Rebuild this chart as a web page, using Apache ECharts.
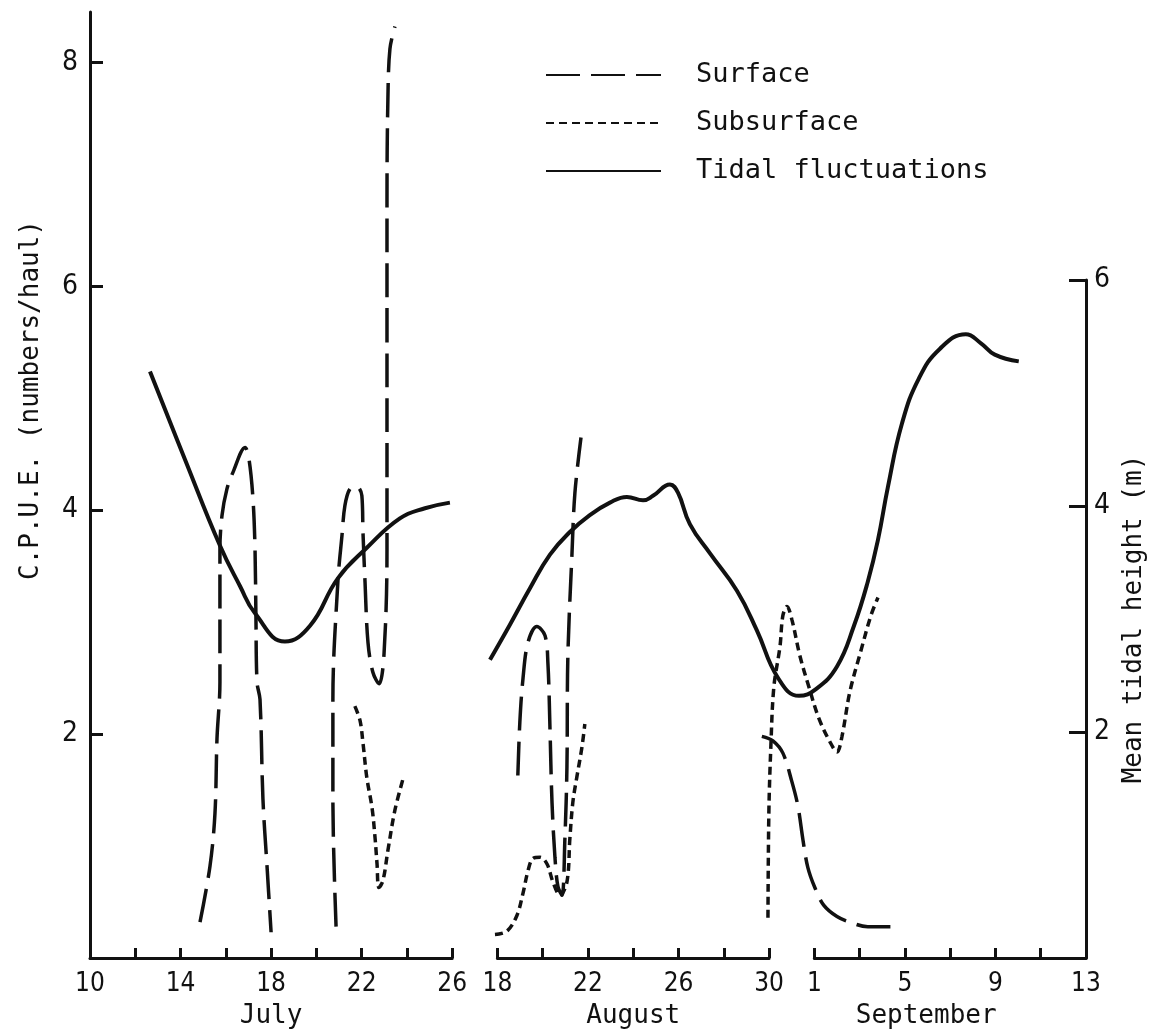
<!DOCTYPE html>
<html>
<head>
<meta charset="utf-8">
<title>C.P.U.E. and tidal height</title>
<script src="https://cdn.jsdelivr.net/npm/echarts@6/dist/echarts.min.js"></script>
<style>
  html, body { margin: 0; padding: 0; background: #fff; }
  #main { width: 1150px; height: 1033px; }
</style>
</head>
<body>
<div id="main"></div>
<script>
// x = day position on the broken date axis:
// 0 = 10 July .. 16 = 26 July, 18 = 18 Aug .. 30 = 30 Aug, 32 = 1 Sept .. 44 = 13 Sept
var surfaceJulyA = [[4.86,0.32],[5.30,0.82],[5.52,1.29],[5.61,1.96],[5.74,2.46],[5.74,3.65],[5.83,3.95],[6.05,4.19],[6.32,4.34],[6.85,4.56],[7.02,4.46],[7.2,4.1],[7.29,3.65],[7.33,3.05],[7.38,2.46],[7.51,2.31],[7.64,1.42],[7.82,0.82],[8.0,0.23]];
var surfaceJulyB = [[10.87,0.28],[10.73,1.42],[10.73,2.31],[10.95,3.36],[11.13,3.77],[11.26,4.04],[11.48,4.19],[11.79,4.21],[12.01,4.13],[12.06,3.80],[12.15,3.36],[12.28,2.82],[12.5,2.55],[12.77,2.45],[12.99,2.72],[13.12,3.65],[13.12,4.55],[13.12,5.59],[13.12,6.78],[13.16,7.67],[13.25,8.12],[13.47,8.32]];
var surfaceAug = [[18.9,1.63],[18.99,2.11],[19.13,2.50],[19.35,2.82],[19.74,2.96],[20.1,2.88],[20.23,2.63],[20.32,2.05],[20.41,1.39],[20.54,0.90],[20.67,0.64],[20.85,0.56],[20.98,1.07],[21.07,1.71],[21.11,2.69],[21.29,3.60],[21.42,4.15],[21.69,4.65]];
var surfaceSep = [[29.68,1.98],[30.17,1.94],[30.61,1.83],[31.0,1.58],[31.27,1.36],[31.5,1.05],[31.71,0.81],[32.02,0.63],[32.42,0.47],[33.0,0.37],[33.57,0.32],[34.36,0.28],[35.56,0.28]];

var subJuly = [[11.7,2.25],[11.93,2.12],[12.06,1.92],[12.23,1.61],[12.46,1.34],[12.59,1.08],[12.68,0.84],[12.76,0.63],[12.94,0.69],[13.16,0.96],[13.47,1.32],[13.87,1.63]];
var subAug = [[17.89,0.21],[18.42,0.24],[18.86,0.38],[19.13,0.58],[19.35,0.78],[19.57,0.89],[19.88,0.90],[20.19,0.84],[20.45,0.68],[20.76,0.56],[21.07,0.68],[21.2,1.07],[21.33,1.39],[21.51,1.62],[21.73,1.88],[21.86,2.09]];
var subSep = [[29.95,0.36],[29.99,1.30],[30.08,1.90],[30.21,2.42],[30.48,2.78],[30.61,3.06],[30.79,3.14],[31.01,3.02],[31.36,2.70],[31.76,2.42],[32.2,2.14],[32.69,1.93],[33.0,1.84],[33.22,1.98],[33.57,2.38],[34.05,2.74],[34.5,3.06],[34.81,3.22]];

// tidal height (m), right axis
var tideJuly = [[2.65,5.19],[4.2,4.41],[5.74,3.65],[6.63,3.29],[7.29,3.05],[8.61,2.80],[9.72,2.94],[10.95,3.36],[12.23,3.63],[13.69,3.89],[14.8,3.98],[15.9,4.03]];
var tideAugSep = [[17.67,2.64],[18.55,2.95],[19.43,3.27],[20.32,3.57],[21.2,3.77],[22.08,3.92],[22.97,4.03],[23.72,4.08],[24.43,4.05],[24.87,4.09],[25.62,4.19],[25.97,4.12],[26.5,3.84],[27.39,3.58],[28.58,3.25],[29.46,2.90],[30.39,2.48],[31.32,2.32],[32.07,2.38],[33.0,2.58],[33.75,2.94],[34.36,3.33],[34.81,3.70],[35.25,4.17],[35.87,4.73],[36.62,5.13],[37.54,5.39],[38.69,5.52],[39.36,5.44],[39.97,5.34],[41.03,5.28]];

var monthNames = ['July', 'August', 'September'];
var monthFrom = [0, 18, 32];
var monthTo = [16, 30, 44];
var monthFirstDate = [10, 18, 1];
var cpueTicks = [2, 4, 6, 8];
var tideTicks = [2, 4, 6];

var axisMax = 44;
var plotLeft = 90, plotRight = 64, plotTop = 12, plotBottom = 75;
var plotWidth = 1150 - plotLeft - plotRight;

var numFont = 'DejaVu Sans Condensed, DejaVu Sans, sans-serif';
var txtFont = 'DejaVu Sans Mono, monospace';
var ink = '#111';

// join curve pieces with a gap so one series can hold several pieces
function joinPieces(pieces) {
  var out = [];
  pieces.forEach(function (p, i) {
    if (i > 0) out.push(['-', '-']);
    out = out.concat(p);
  });
  return out;
}

var grids = [
  { left: plotLeft, right: plotRight, top: plotTop, bottom: plotBottom, outerBoundsMode: 'none' },
  { left: plotLeft, right: plotRight, top: 280, bottom: plotBottom, outerBoundsMode: 'none' }
];
var xAxes = [
  { gridIndex: 0, type: 'value', min: 0, max: axisMax, show: false },
  { gridIndex: 1, type: 'value', min: 0, max: axisMax, show: false }
];
var yAxes = [
  {
    gridIndex: 0, type: 'value', min: 0, max: 8.45, position: 'left',
    name: 'C.P.U.E. (numbers/haul)', nameLocation: 'middle', nameGap: 46, nameRotate: 90,
    nameTextStyle: { fontFamily: txtFont, fontSize: 26, color: ink, padding: [0, 0, 0, 170] },
    axisLine: { show: true, onZero: false, lineStyle: { color: ink, width: 3 } },
    axisTick: { show: true, inside: true, length: 13, customValues: cpueTicks, lineStyle: { color: ink, width: 3 } },
    axisLabel: { customValues: cpueTicks, margin: 12, fontFamily: numFont, fontSize: 28, color: ink },
    splitLine: { show: false }
  },
  {
    gridIndex: 1, type: 'value', min: 0, max: 6, position: 'right',
    name: 'Mean tidal height (m)', nameLocation: 'middle', nameGap: 32, nameRotate: 90,
    nameTextStyle: { fontFamily: txtFont, fontSize: 26, color: ink },
    axisLine: { show: true, onZero: false, lineStyle: { color: ink, width: 3 } },
    axisTick: { show: true, inside: true, length: 17, customValues: tideTicks, lineStyle: { color: ink, width: 3 } },
    axisLabel: { customValues: tideTicks, margin: 8, fontFamily: numFont, fontSize: 28, color: ink },
    splitLine: { show: false }
  }
];

// one small grid per month so the date axis is broken between months
monthNames.forEach(function (m, i) {
  var from = monthFrom[i], to = monthTo[i];
  var l = plotLeft + plotWidth * from / axisMax;
  var r = 1150 - (plotLeft + plotWidth * to / axisMax);
  grids.push({ left: l, right: r, top: plotTop, bottom: plotBottom, outerBoundsMode: 'none' });
  xAxes.push({
    gridIndex: i + 2, type: 'value', min: from, max: to, interval: 2,
    name: m, nameLocation: 'middle', nameGap: 45,
    nameTextStyle: { fontFamily: txtFont, fontSize: 26, color: ink, padding: i === 2 ? [0, 48, 0, 0] : 0 },
    axisLine: { show: true, onZero: false, lineStyle: { color: ink, width: 3 } },
    axisTick: { show: true, inside: true, length: 10, lineStyle: { color: ink, width: 3 } },
    axisLabel: {
      margin: 13, fontFamily: numFont, fontSize: 26, color: ink,
      formatter: function (v) {
        return (v - from) % 4 === 0 ? String(monthFirstDate[i] + v - from) : '';
      }
    },
    splitLine: { show: false }
  });
  yAxes.push({ gridIndex: i + 2, type: 'value', min: 0, max: 1, show: false });
});

var myChart = echarts.init(document.getElementById('main'));
myChart.setOption({
  backgroundColor: '#fff',
  animation: false,
  grid: grids,
  xAxis: xAxes,
  yAxis: yAxes,
  legend: {
    orient: 'vertical', left: 540, top: 55,
    itemWidth: 115, itemHeight: 14, itemGap: 18,
    itemStyle: { opacity: 0 },
    textStyle: { fontFamily: txtFont, fontSize: 27, color: ink, lineHeight: 30, padding: [0, 0, 0, 30] },
    data: ['Surface', 'Subsurface', 'Tidal fluctuations']
  },
  series: [
    {
      name: 'Surface', type: 'line', xAxisIndex: 0, yAxisIndex: 0,
      smooth: 0.35, symbol: 'none', connectNulls: false,
      itemStyle: { color: ink },
      lineStyle: { color: ink, width: 3.5, type: [34, 11] },
      data: joinPieces([surfaceJulyA, surfaceJulyB, surfaceAug, surfaceSep])
    },
    {
      name: 'Subsurface', type: 'line', xAxisIndex: 0, yAxisIndex: 0,
      smooth: 0.35, symbol: 'none', connectNulls: false,
      itemStyle: { color: ink },
      lineStyle: { color: ink, width: 3.5, type: [8, 5] },
      data: joinPieces([subJuly, subAug, subSep])
    },
    {
      name: 'Tidal fluctuations', type: 'line', xAxisIndex: 1, yAxisIndex: 1,
      smooth: 0.45, symbol: 'none', connectNulls: false,
      itemStyle: { color: ink },
      lineStyle: { color: ink, width: 4 },
      data: joinPieces([tideJuly, tideAugSep])
    }
  ]
});
</script>
</body>
</html>
